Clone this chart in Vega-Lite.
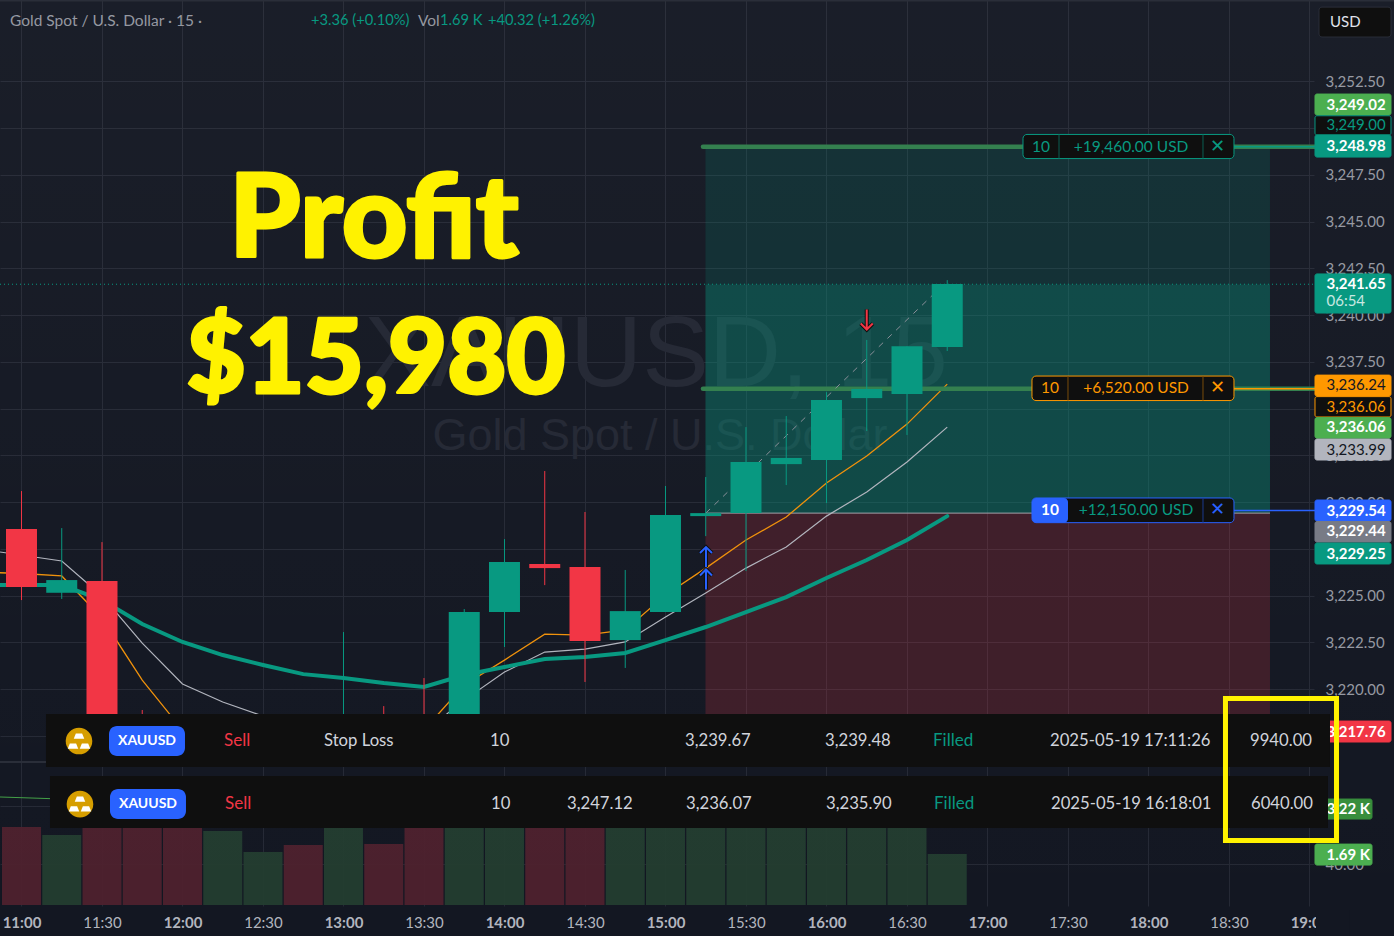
{"$schema":"https://vega.github.io/schema/vega-lite/v6.json","width":1314,"height":906,"autosize":{"type":"none"},"padding":{"left":0,"top":0,"right":80,"bottom":30},"background":"#131722","config":{"view":{"stroke":null},"font":"Lato","text":{"font":"Lato"}},
"resolve":{"scale":{"y":"independent","color":"independent"}},
"encoding":{"x":{"field":"m","type":"quantitative","scale":{"domain":[651.99,1141.68],"nice":false,"zero":false,"padding":0},"axis":{"title":null,"values":[660,690,720,750,780,810,840,870,900,930,960,990,1020,1050,1080,1110,1140],"labelExpr":"floor(datum.value/60)+':'+(datum.value%60==0?'00':'30')","labelFontWeight":{"expr":"datum.value%60==0?'bold':'normal'"},"labelFontSize":15,"labelColor":"#b2b5be","labelFont":"Lato","labelPadding":9,"labelFlush":false,"labelOverlap":false,"ticks":false,"domain":false,"grid":true,"gridColor":"#252935","gridWidth":1}}},
"layer":[
{"encoding":{"y":{"field":"v","type":"quantitative","scale":{"domain":[-33,29987],"nice":false,"zero":false},"axis":{"title":null,"orient":"right","values":[1358,3280],"labelExpr":"datum.value<2000?'40.00':'80.00'","labelColor":"#9598a1","labelFontSize":15,"labelFont":"Lato","labelPadding":11,"ticks":false,"domain":false,"grid":true,"gridColor":"#252935","gridWidth":1}}},
"layer":[
{"data":{"values":[{"m":660,"v":2585,"side":"down"},{"m":675,"v":2320,"side":"up"},{"m":690,"v":3000,"side":"down"},{"m":705,"v":2800,"side":"down"},{"m":720,"v":3200,"side":"down"},{"m":735,"v":2452,"side":"up"},{"m":750,"v":1756,"side":"up"},{"m":765,"v":1988,"side":"down"},{"m":780,"v":2900,"side":"up"},{"m":795,"v":2021,"side":"down"},{"m":810,"v":3100,"side":"down"},{"m":825,"v":2800,"side":"up"},{"m":840,"v":2700,"side":"up"},{"m":855,"v":2900,"side":"down"},{"m":870,"v":3000,"side":"down"},{"m":885,"v":2600,"side":"up"},{"m":900,"v":2800,"side":"up"},{"m":915,"v":2900,"side":"up"},{"m":930,"v":2700,"side":"up"},{"m":945,"v":3000,"side":"up"},{"m":960,"v":2900,"side":"up"},{"m":975,"v":3100,"side":"up"},{"m":990,"v":2700,"side":"up"},{"m":1005,"v":1690,"side":"up"}]},
"mark":{"type":"bar","size":39,"orient":"vertical","opacity":0.95},
"encoding":{"color":{"field":"side","type":"nominal","scale":{"domain":["up","down"],"range":["#233d30","#4e212e"]},"legend":null}}},
{"data":{"values":[{"m":651.99,"v":3579},{"m":675,"v":3512},{"m":720,"v":3413},{"m":840,"v":3280},{"m":1005,"v":3220}]},"mark":{"type":"line","color":"#43a047","strokeWidth":1}}
]},
{"encoding":{"y":{"field":"p","type":"quantitative","scale":{"domain":[3208.40,3256.85],"nice":false,"zero":false},"axis":{"title":null,"orient":"right","values":[3252.5,3250,3247.5,3245,3242.5,3240,3237.5,3235,3232.5,3230,3227.5,3225,3222.5,3220,3217.5],"format":",.2f","labelColor":"#9598a1","labelFontSize":15,"labelFont":"Lato","labelPadding":11,"ticks":false,"domain":false,"grid":true,"gridColor":"#252935","gridWidth":1}}},
"layer":[
{"data":{"values":[{"m":651.99,"m2":1171.49,"p":3256.85,"p2":3206.79}]},"mark":{"type":"rect","color":{"gradient":"linear","x1":0,"y1":0,"x2":0,"y2":1,"stops":[{"offset":0,"color":"rgba(255,255,255,0.03)"},{"offset":1,"color":"rgba(255,255,255,0)"}]}},"encoding":{"x2":{"field":"m2"},"y2":{"field":"p2"}}},
{"data":{"values":[{"m":651.99,"m2":1171.49,"p":3256.82}]},"mark":{"type":"rule","color":"#2a2e39","strokeWidth":2},"encoding":{"x2":{"field":"m2"}}},
{"data":{"values":[{"m":896.5,"p":3237.8,"label":"XAUUSD, 15"}]},"mark":{"type":"text","font":"Liberation Sans","fontSize":100,"align":"center","baseline":"middle","color":"#262a36"},"encoding":{"text":{"field":"label"}}},
{"data":{"values":[{"m":897.95,"p":3233.54,"label":"Gold Spot / U.S. Dollar"}]},"mark":{"type":"text","font":"Liberation Sans","fontSize":45,"align":"center","baseline":"middle","color":"#262a36"},"encoding":{"text":{"field":"label"}}},
{"data":{"values":[{"m":914.9,"m2":1125.28,"p":3249.04,"p2":3241.63}]},"mark":{"type":"rect","color":"#089981","opacity":0.17},"encoding":{"x2":{"field":"m2"},"y2":{"field":"p2"}}},
{"data":{"values":[{"m":914.9,"m2":1125.28,"p":3241.63,"p2":3229.41}]},"mark":{"type":"rect","color":"#089981","opacity":0.38},"encoding":{"x2":{"field":"m2"},"y2":{"field":"p2"}}},
{"data":{"values":[{"m":914.9,"m2":1125.28,"p":3229.41,"p2":3217.28}]},"mark":{"type":"rect","color":"#f23645","opacity":0.195},"encoding":{"x2":{"field":"m2"},"y2":{"field":"p2"}}},
{"data":{"values":[{"m":651.99,"m2":1142.05,"p":3216.10}]},"mark":{"type":"rule","color":"#2a2e39","strokeWidth":2},"encoding":{"x2":{"field":"m2"}}},
{"data":{"values":[{"m":651.99,"m2":1142.05,"p":3241.65}]},"mark":{"type":"rule","color":"#089981","strokeWidth":1,"strokeDash":[1,3]},"encoding":{"x2":{"field":"m2"}}},
{"data":{"values":[{"m":914.9,"m2":1125.28,"p":3229.41}]},"mark":{"type":"rule","color":"#a0a3ab","strokeWidth":1},"encoding":{"x2":{"field":"m2"}}},
{"data":{"values":[{"m":651.99,"p":3226.22},{"m":660,"p":3226.18},{"m":675,"p":3226.05},{"m":690,"p":3223.80},{"m":705,"p":3220.48},{"m":720,"p":3217.81},{"m":735,"p":3216.85},{"m":750,"p":3216.47},{"m":765,"p":3216.47},{"m":780,"p":3216.63},{"m":795,"p":3217.01},{"m":810,"p":3217.81},{"m":825,"p":3220.22},{"m":840,"p":3221.55},{"m":855,"p":3222.94},{"m":870,"p":3222.89},{"m":885,"p":3223.16},{"m":900,"p":3225.03},{"m":915,"p":3226.47},{"m":930,"p":3227.97},{"m":945,"p":3229.20},{"m":960,"p":3231.02},{"m":975,"p":3232.46},{"m":990,"p":3234.17},{"m":1005,"p":3236.31}]},"mark":{"type":"line","color":"#f0920c","strokeWidth":1.3}},
{"data":{"values":[{"m":651.99,"p":3227.33},{"m":675,"p":3226.85},{"m":690,"p":3224.98},{"m":705,"p":3222.46},{"m":720,"p":3220.27},{"m":735,"p":3219.31},{"m":750,"p":3218.56},{"m":765,"p":3217.81},{"m":780,"p":3217.28},{"m":795,"p":3217.17},{"m":810,"p":3217.70},{"m":825,"p":3219.41},{"m":840,"p":3220.91},{"m":855,"p":3221.98},{"m":870,"p":3222.14},{"m":885,"p":3222.52},{"m":900,"p":3223.85},{"m":915,"p":3225.14},{"m":930,"p":3226.47},{"m":945,"p":3227.60},{"m":960,"p":3229.25},{"m":975,"p":3230.54},{"m":990,"p":3232.14},{"m":1005,"p":3234.01}]},"mark":{"type":"line","color":"#b2b5be","strokeWidth":1.2}},
{"data":{"values":[{"m":651.99,"p":3225.56},{"m":675,"p":3225.56},{"m":690,"p":3224.76},{"m":705,"p":3223.48},{"m":720,"p":3222.52},{"m":735,"p":3221.82},{"m":750,"p":3221.29},{"m":765,"p":3220.80},{"m":780,"p":3220.59},{"m":795,"p":3220.32},{"m":810,"p":3220.11},{"m":825,"p":3220.75},{"m":840,"p":3221.18},{"m":855,"p":3221.61},{"m":870,"p":3221.71},{"m":885,"p":3221.93},{"m":900,"p":3222.62},{"m":915,"p":3223.32},{"m":930,"p":3224.12},{"m":945,"p":3224.92},{"m":960,"p":3225.94},{"m":975,"p":3226.90},{"m":990,"p":3227.97},{"m":1005,"p":3229.25}]},"mark":{"type":"line","color":"#089981","strokeWidth":4,"strokeCap":"round"}},
{"data":{"values":[{"m":913.97,"m2":1142.05,"p":3249.0},{"m":913.97,"m2":1142.05,"p":3236.06}]},"mark":{"type":"rule","color":"#34804f","strokeWidth":4.5,"strokeCap":"round"},"encoding":{"x2":{"field":"m2"}}},
{"data":{"values":[{"m":915,"p":3229.41},{"m":1003.4,"p":3241.6}]},"mark":{"type":"line","color":"#8a8f99","strokeWidth":1,"strokeDash":[6,6]}},
{"data":{"name":"candles","values":[{"m":660,"open":3228.56,"close":3225.46,"high":3230.59,"low":3224.76,"side":"down"},{"m":675,"open":3225.15,"close":3225.83,"high":3228.61,"low":3224.82,"side":"up"},{"m":690,"open":3225.78,"close":3217.01,"high":3227.86,"low":3216.47,"side":"down"},{"m":705,"open":3218.24,"close":3216.63,"high":3218.88,"low":3216.21,"side":"down"},{"m":720,"open":3217.81,"close":3216.74,"high":3218.24,"low":3216.21,"side":"down"},{"m":735,"open":3216.47,"close":3217.54,"high":3218.08,"low":3216.1,"side":"up"},{"m":750,"open":3216.6,"close":3217.3,"high":3218.0,"low":3216.2,"side":"up"},{"m":765,"open":3217.6,"close":3216.7,"high":3218.0,"low":3216.2,"side":"down"},{"m":780,"open":3216.74,"close":3218.08,"high":3223.05,"low":3216.21,"side":"up"},{"m":795,"open":3218.35,"close":3216.74,"high":3219.09,"low":3216.2,"side":"down"},{"m":810,"open":3218.08,"close":3216.74,"high":3220.59,"low":3216.2,"side":"down"},{"m":825,"open":3216.74,"close":3224.12,"high":3224.28,"low":3216.37,"side":"up"},{"m":840,"open":3224.12,"close":3226.79,"high":3228.02,"low":3222.25,"side":"up"},{"m":855,"open":3226.69,"close":3226.47,"high":3231.66,"low":3225.56,"side":"down"},{"m":870,"open":3226.53,"close":3222.57,"high":3229.47,"low":3220.38,"side":"down"},{"m":885,"open":3222.62,"close":3224.17,"high":3226.37,"low":3221.13,"side":"up"},{"m":900,"open":3224.12,"close":3229.31,"high":3230.86,"low":3224.12,"side":"up"},{"m":915,"open":3229.25,"close":3229.41,"high":3231.34,"low":3228.18,"side":"up"},{"m":930,"open":3229.41,"close":3232.14,"high":3234.01,"low":3226.31,"side":"up"},{"m":945,"open":3232.03,"close":3232.36,"high":3234.60,"low":3230.91,"side":"up"},{"m":960,"open":3232.25,"close":3235.46,"high":3235.88,"low":3229.95,"side":"up"},{"m":975,"open":3235.56,"close":3236.05,"high":3238.67,"low":3233.80,"side":"up"},{"m":990,"open":3235.78,"close":3238.34,"high":3238.34,"low":3233.59,"side":"up"},{"m":1005,"open":3238.29,"close":3241.66,"high":3241.87,"low":3238.08,"side":"up"}]},"mark":{"type":"rule","strokeWidth":1},"encoding":{"y":{"field":"high","type":"quantitative","scale":{"domain":[3208.40,3256.85],"nice":false,"zero":false},"axis":{"title":null,"orient":"right","values":[3252.5,3250,3247.5,3245,3242.5,3240,3237.5,3235,3232.5,3230,3227.5,3225,3222.5,3220,3217.5],"format":",.2f","labelColor":"#9598a1","labelFontSize":15,"labelFont":"Lato","labelPadding":11,"ticks":false,"domain":false,"grid":true,"gridColor":"#252935","gridWidth":1}},"y2":{"field":"low"},"color":{"field":"side","type":"nominal","scale":{"domain":["up","down"],"range":["#089981","#f23645"]},"legend":null}}},
{"data":{"name":"candles"},"mark":{"type":"bar","size":31,"orient":"vertical"},"encoding":{"y":{"field":"open","type":"quantitative","scale":{"domain":[3208.40,3256.85],"nice":false,"zero":false},"axis":{"title":null,"orient":"right","values":[3252.5,3250,3247.5,3245,3242.5,3240,3237.5,3235,3232.5,3230,3227.5,3225,3222.5,3220,3217.5],"format":",.2f","labelColor":"#9598a1","labelFontSize":15,"labelFont":"Lato","labelPadding":11,"ticks":false,"domain":false,"grid":true,"gridColor":"#252935","gridWidth":1}},"y2":{"field":"close"},"color":{"field":"side","type":"nominal","scale":{"domain":["up","down"],"range":["#089981","#f23645"]},"legend":null}}},
{"data":{"values":[{"m":915.09,"p":3227.06},{"m":915.09,"p":3225.86}]},"mark":{"type":"point","shape":"M0,1L0,-1M-0.6,-0.4L0,-1L0.6,-0.4","size":400,"filled":false,"stroke":"#0f0f0f","strokeWidth":4,"opacity":1}},
{"data":{"values":[{"m":915.09,"p":3227.06},{"m":915.09,"p":3225.86}]},"mark":{"type":"point","shape":"M0,1L0,-1M-0.6,-0.4L0,-1L0.6,-0.4","size":400,"filled":false,"stroke":"#2962ff","strokeWidth":2,"opacity":1}},
{"data":{"values":[{"m":975,"p":3239.76}]},"mark":{"type":"point","shape":"M0,-1L0,1M-0.6,0.4L0,1L0.6,0.4","size":400,"filled":false,"stroke":"#0f0f0f","strokeWidth":4,"opacity":1}},
{"data":{"values":[{"m":975,"p":3239.76}]},"mark":{"type":"point","shape":"M0,-1L0,1M-0.6,0.4L0,1L0.6,0.4","size":400,"filled":false,"stroke":"#f23645","strokeWidth":2,"opacity":1}},
{"data":{"values":[{"m":1111.86,"m2":1142.05,"p":3249.0}]},"mark":{"type":"rule","color":"#089981","strokeWidth":1.5},"encoding":{"x2":{"field":"m2"}}},
{"data":{"values":[{"m":1111.86,"m2":1142.05,"p":3236.06}]},"mark":{"type":"rule","color":"#ff9800","strokeWidth":1.5},"encoding":{"x2":{"field":"m2"}}},
{"data":{"values":[{"m":1111.86,"m2":1142.05,"p":3229.55}]},"mark":{"type":"rule","color":"#2962ff","strokeWidth":1.5},"encoding":{"x2":{"field":"m2"}}},
{"data":{"values":[{"m":1033.23,"m2":1111.86,"p":3249.66,"p2":3248.37}]},"mark":{"type":"rect","fill":"#0f0f0f","stroke":"#089981","cornerRadius":4,"strokeWidth":1},"encoding":{"x2":{"field":"m2"},"y2":{"field":"p2"}}},
{"data":{"values":[{"m":1036.58,"m2":1111.86,"p":3236.74,"p2":3235.43}]},"mark":{"type":"rect","fill":"#0f0f0f","stroke":"#ff9800","cornerRadius":4,"strokeWidth":1},"encoding":{"x2":{"field":"m2"},"y2":{"field":"p2"}}},
{"data":{"values":[{"m":1036.58,"m2":1111.86,"p":3230.22,"p2":3228.90}]},"mark":{"type":"rect","fill":"#0f0f0f","stroke":"#2962ff","cornerRadius":4,"strokeWidth":1},"encoding":{"x2":{"field":"m2"},"y2":{"field":"p2"}}},
{"data":{"values":[{"m":1036.58,"m2":1050,"p":3230.22,"p2":3228.90}]},"mark":{"type":"rect","fill":"#2962ff","cornerRadius":4},"encoding":{"x2":{"field":"m2"},"y2":{"field":"p2"}}},
{"data":{"values":[{"m":1046.65,"p":3249.66,"p2":3248.37},{"m":1100.31,"p":3249.66,"p2":3248.37}]},"mark":{"type":"rule","color":"#0b5f52","strokeWidth":1},"encoding":{"y2":{"field":"p2"}}},
{"data":{"values":[{"m":1050,"p":3236.74,"p2":3235.43},{"m":1100.31,"p":3236.74,"p2":3235.43}]},"mark":{"type":"rule","color":"#7a4d0b","strokeWidth":1},"encoding":{"y2":{"field":"p2"}}},
{"data":{"values":[{"m":1100.31,"p":3230.22,"p2":3228.90}]},"mark":{"type":"rule","color":"#1b3a8f","strokeWidth":1},"encoding":{"y2":{"field":"p2"}}},
{"data":{"values":[{"m":1039.94,"p":3249.01,"label":"10"},{"m":1073.48,"p":3249.01,"label":"+19,460.00 USD"},{"m":1075.34,"p":3229.56,"label":"+12,150.00 USD"}]},"mark":{"type":"text","align":"center","baseline":"middle","fontSize":15.5,"color":"#089981"},"encoding":{"text":{"field":"label"}}},
{"data":{"values":[{"m":1105.9,"p":3249.01,"label":"✕"}]},"mark":{"type":"text","align":"center","baseline":"middle","fontSize":18,"color":"#089981"},"encoding":{"text":{"field":"label"}}},
{"data":{"values":[{"m":1043.29,"p":3236.08,"label":"10"},{"m":1075.34,"p":3236.08,"label":"+6,520.00 USD"}]},"mark":{"type":"text","align":"center","baseline":"middle","fontSize":15.5,"color":"#ff9800"},"encoding":{"text":{"field":"label"}}},
{"data":{"values":[{"m":1105.9,"p":3236.08,"label":"✕"}]},"mark":{"type":"text","align":"center","baseline":"middle","fontSize":18,"color":"#ff9800"},"encoding":{"text":{"field":"label"}}},
{"data":{"values":[{"m":1043.29,"p":3229.56,"label":"10"}]},"mark":{"type":"text","align":"center","baseline":"middle","fontSize":15.5,"fontWeight":"bold","color":"#ffffff"},"encoding":{"text":{"field":"label"}}},
{"data":{"values":[{"m":1105.9,"p":3229.56,"label":"✕"}]},"mark":{"type":"text","align":"center","baseline":"middle","fontSize":18,"color":"#2962ff"},"encoding":{"text":{"field":"label"}}},
{"data":{"values":[{"m":1142.05,"m2":1170.37,"p":3251.82,"p2":3250.70,"tag":"profit high"},{"m":1142.05,"m2":1170.37,"p":3250.66,"p2":3249.63,"tag":"tp order"},{"m":1142.05,"m2":1170.37,"p":3249.63,"p2":3248.45,"tag":"tp"},{"m":1142.05,"m2":1170.37,"p":3242.20,"p2":3240.11,"tag":"last"},{"m":1142.05,"m2":1170.37,"p":3236.79,"p2":3235.67,"tag":"ema"},{"m":1142.05,"m2":1170.37,"p":3235.64,"p2":3234.55,"tag":"stop order"},{"m":1142.05,"m2":1170.37,"p":3234.52,"p2":3233.42,"tag":"stop"},{"m":1142.05,"m2":1170.37,"p":3233.37,"p2":3232.25,"tag":"ma"},{"m":1142.05,"m2":1170.37,"p":3230.11,"p2":3228.99,"tag":"entry"},{"m":1142.05,"m2":1170.37,"p":3228.96,"p2":3227.86,"tag":"avg"},{"m":1142.05,"m2":1170.37,"p":3227.81,"p2":3226.69,"tag":"slow"},{"m":1142.05,"m2":1170.37,"p":3218.29,"p2":3217.17,"tag":"loss"},{"m":1142.05,"m2":1163.29,"p":3214.12,"p2":3213.05,"tag":"vol ma"},{"m":1142.05,"m2":1163.29,"p":3211.71,"p2":3210.59,"tag":"vol"}]},"mark":{"type":"rect","cornerRadius":2,"strokeWidth":1},"encoding":{"x2":{"field":"m2"},"y2":{"field":"p2"},"fill":{"field":"tag","type":"nominal","scale":{"domain":["profit high","tp order","tp","last","ema","stop order","stop","ma","entry","avg","slow","loss","vol ma","vol"],"range":["#4caf50","#0f0f0f","#089981","#089981","#ff9800","#0f0f0f","#4caf50","#b2b5be","#2962ff","#787b86","#089981","#f23645","#388e3c","#4caf50"]},"legend":null},"stroke":{"field":"tag","type":"nominal","scale":{"domain":["profit high","tp order","tp","last","ema","stop order","stop","ma","entry","avg","slow","loss","vol ma","vol"],"range":["#4caf50","#089981","#089981","#089981","#ff9800","#ff9800","#4caf50","#b2b5be","#2962ff","#787b86","#089981","#f23645","#388e3c","#4caf50"]},"legend":null}}},
{"data":{"values":[{"m":1146.33,"p":3251.26,"label":"3,249.02"},{"m":1146.33,"p":3249.04,"label":"3,248.98"},{"m":1146.33,"p":3241.66,"label":"3,241.65"},{"m":1146.33,"p":3233.99,"label":"3,236.06"},{"m":1146.33,"p":3229.55,"label":"3,229.54"},{"m":1146.33,"p":3228.43,"label":"3,229.44"},{"m":1146.33,"p":3227.25,"label":"3,229.25"},{"m":1146.33,"p":3217.73,"label":"3,217.76"},{"m":1146.33,"p":3213.59,"label":"3.22 K"},{"m":1146.33,"p":3211.13,"label":"1.69 K"}]},"mark":{"type":"text","align":"left","baseline":"middle","fontSize":15,"fontWeight":"bold","color":"#ffffff"},"encoding":{"text":{"field":"label"}}},
{"data":{"values":[{"m":1146.33,"p":3240.75,"label":"06:54"}]},"mark":{"type":"text","align":"left","baseline":"middle","fontSize":15,"color":"#c8e8e2"},"encoding":{"text":{"field":"label"}}},
{"data":{"values":[{"m":1146.33,"p":3250.16,"label":"3,249.00"}]},"mark":{"type":"text","align":"left","baseline":"middle","fontSize":15,"color":"#089981"},"encoding":{"text":{"field":"label"}}},
{"data":{"values":[{"m":1146.33,"p":3235.11,"label":"3,236.06"}]},"mark":{"type":"text","align":"left","baseline":"middle","fontSize":15,"color":"#ff9800"},"encoding":{"text":{"field":"label"}}},
{"data":{"values":[{"m":1146.33,"p":3236.26,"label":"3,236.24"},{"m":1146.33,"p":3232.81,"label":"3,233.99"}]},"mark":{"type":"text","align":"left","baseline":"middle","fontSize":15,"color":"#131722"},"encoding":{"text":{"field":"label"}}},
{"data":{"values":[{"m":669.13,"m2":1147.64,"p":3218.67,"p2":3215.83},{"m":670.62,"m2":1146.89,"p":3215.35,"p2":3212.57}]},"mark":{"type":"rect","color":"#0f0f0f"},"encoding":{"x2":{"field":"m2"},"y2":{"field":"p2"}}},
{"data":{"values":[{"m":681.43,"p":3217.22},{"m":681.80,"p":3213.85}]},"mark":{"type":"point","shape":"circle","filled":true,"size":707,"color":"#d69e00","opacity":1}},
{"data":{"values":[{"m":681.43,"p":3217.49},{"m":679.19,"p":3216.95},{"m":683.67,"p":3216.95},{"m":681.80,"p":3214.12},{"m":679.56,"p":3213.59},{"m":684.04,"p":3213.59}]},"mark":{"type":"point","shape":"M-0.6,-0.5L0.6,-0.5L1,0.5L-1,0.5Z","filled":true,"size":110,"color":"#ffffff","opacity":1}},
{"data":{"values":[{"m":692.61,"m2":720.93,"p":3218.02,"p2":3216.42},{"m":692.98,"m2":721.30,"p":3214.66,"p2":3213.05}]},"mark":{"type":"rect","color":"#2962ff","cornerRadius":8},"encoding":{"x2":{"field":"m2"},"y2":{"field":"p2"}}},
{"data":{"values":[{"m":706.77,"p":3217.22,"label":"XAUUSD"},{"m":707.14,"p":3213.85,"label":"XAUUSD"}]},"mark":{"type":"text","align":"center","baseline":"middle","fontSize":14,"fontWeight":"bold","color":"#ffffff"},"encoding":{"text":{"field":"label"}}},
{"data":{"values":[{"m":735.47,"p":3217.22,"label":"Sell"},{"m":735.84,"p":3213.85,"label":"Sell"}]},"mark":{"type":"text","align":"left","baseline":"middle","fontSize":17,"color":"#f23645"},"encoding":{"text":{"field":"label"}}},
{"data":{"values":[{"m":999.69,"p":3217.22,"label":"Filled"},{"m":1000.06,"p":3213.85,"label":"Filled"}]},"mark":{"type":"text","align":"left","baseline":"middle","fontSize":17,"color":"#089981"},"encoding":{"text":{"field":"label"}}},
{"data":{"values":[{"m":772.73,"p":3217.22,"label":"Stop Loss"},{"m":834.6,"p":3217.22,"label":"10"},{"m":907.27,"p":3217.22,"label":"3,239.67"},{"m":959.44,"p":3217.22,"label":"3,239.48"},{"m":1043.29,"p":3217.22,"label":"2025-05-19 17:11:26"},{"m":1117.82,"p":3217.22,"label":"9940.00"},{"m":834.97,"p":3213.85,"label":"10"},{"m":863.29,"p":3213.85,"label":"3,247.12"},{"m":907.64,"p":3213.85,"label":"3,236.07"},{"m":959.81,"p":3213.85,"label":"3,235.90"},{"m":1043.66,"p":3213.85,"label":"2025-05-19 16:18:01"},{"m":1118.19,"p":3213.85,"label":"6040.00"}]},"mark":{"type":"text","align":"left","baseline":"middle","fontSize":16.7,"color":"#d1d4dc"},"encoding":{"text":{"field":"label"}}},
{"data":{"values":[{"m":791.4,"p":3244.9,"label":"Profit"}]},"mark":{"type":"text","align":"center","baseline":"middle","font":"Lato","fontWeight":900,"fontSize":114,"color":"#fff200","stroke":"#fff200","strokeWidth":3,"strokeJoin":"round"},"encoding":{"text":{"field":"label"}}},
{"data":{"values":[{"m":792.11,"p":3237.5,"label":"$15,980"}]},"mark":{"type":"text","align":"center","baseline":"middle","font":"Lato","fontWeight":900,"fontSize":102,"color":"#fff200","stroke":"#fff200","strokeWidth":3,"strokeJoin":"round"},"encoding":{"text":{"field":"label"}}},
{"data":{"values":[{"m":1108.69,"m2":1150.06,"p":3219.49,"p2":3211.90}]},"mark":{"type":"rect","fill":"transparent","stroke":"#fff200","strokeWidth":5},"encoding":{"x2":{"field":"m2"},"y2":{"field":"p2"}}},
{"data":{"values":[{"m":655.71,"p":3255.72,"label":"Gold Spot / U.S. Dollar · 15 ·"},{"m":807.76,"p":3255.72,"label":"Vol"}]},"mark":{"type":"text","align":"left","baseline":"middle","fontSize":15.5,"color":"#9598a1"},"encoding":{"text":{"field":"label"}}},
{"data":{"values":[{"m":767.89,"p":3255.72,"label":"+3.36 (+0.10%)"},{"m":815.96,"p":3255.72,"label":"1.69 K"},{"m":833.85,"p":3255.72,"label":"+40.32 (+1.26%)"}]},"mark":{"type":"text","align":"left","baseline":"middle","fontSize":14.7,"color":"#089981"},"encoding":{"text":{"field":"label"}}},
{"data":{"values":[{"m":1143.54,"m2":1170.37,"p":3256.47,"p2":3254.87}]},"mark":{"type":"rect","fill":"#0f0f0f","stroke":"#2a2e39","cornerRadius":3},"encoding":{"x2":{"field":"m2"},"y2":{"field":"p2"}}},
{"data":{"values":[{"m":1147.64,"p":3255.67,"label":"USD"}]},"mark":{"type":"text","align":"left","baseline":"middle","fontSize":15,"color":"#e0e3eb"},"encoding":{"text":{"field":"label"}}},
{"data":{"values":[{"m":1142.42,"m2":1155.09,"p":3208.18,"p2":3206.79}]},"mark":{"type":"rect","color":"#131722"},"encoding":{"x2":{"field":"m2"},"y2":{"field":"p2"}}}
]}
]}
